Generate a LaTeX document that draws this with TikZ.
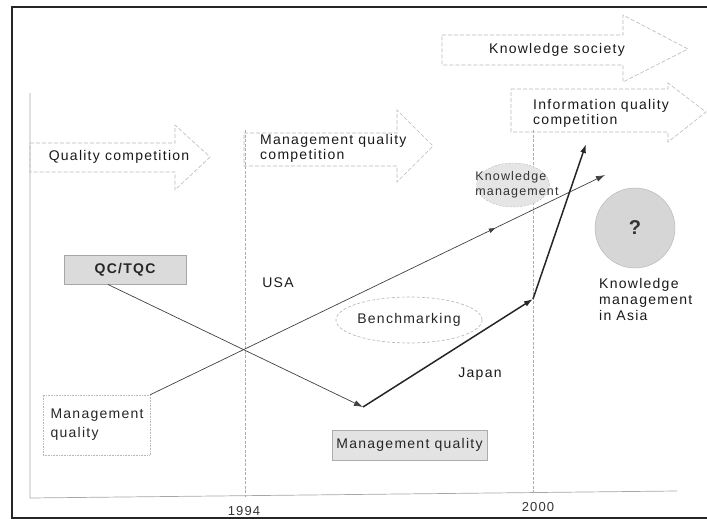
\documentclass[tikz,border=0pt]{standalone}
\usepackage{fontspec}
\setmainfont[LetterSpace=9]{Liberation Sans}
\usetikzlibrary{arrows.meta,decorations.markings,shapes.geometric}

\newcommand\lblfont{\fontsize{14}{15}\selectfont}
\newcommand\smallfont{\fontsize{12.5}{15}\selectfont}

\begin{document}
\begin{tikzpicture}[x=1pt,y=-1pt,
  bigarrow/.style={draw=gray!55, dash pattern=on 4pt off 2pt, line width=0.6pt},
  lbl/.style={font=\lblfont, text=black!90, inner sep=0pt},
  flow/.style={draw=black!75, line width=0.7pt},
  thickflow/.style={draw=black!85, line width=1.5pt},
  tip/.style={-{Latex[length=9pt,width=6pt]}},
  midtip/.style={postaction={decorate}, decoration={markings,
      mark=at position #1 with {\arrow{Latex[length=7pt,width=5pt]}}}},
  frame/.style={draw=black!85, line width=2pt},
  axis/.style={draw=gray!70, line width=0.7pt},
  yearline/.style={draw=gray!65, line width=0.5pt, dash pattern=on 3pt off 1.5pt},
]
\useasboundingbox (0,0) rectangle (707,519);

% outer frame
\draw[frame] (707,7) -- (12,7) -- (12,518) -- (707,518);

% axes and year markers
\draw[axis] (30,93) -- (30,498) -- (677,491);
\draw[yearline] (245,130) -- (245,497);
\draw[yearline] (533,130) -- (533,492);
\node[font=\fontsize{13}{14}\selectfont, text=black!80] (y1994) at (244,511) {1994};
\node[font=\fontsize{13}{14}\selectfont, text=black!80] (y2000) at (538,507) {2000};

% era arrows
\draw[bigarrow] (30,143) -- (175,143) -- (175,125) -- (210,157) -- (175,190) -- (175,172) -- (30,172) -- cycle;
\node[lbl] (era1) at (119,157) {Quality competition};

\draw[bigarrow] (244,133) -- (397,133) -- (397,110) -- (433,146) -- (397,182) -- (397,166) -- (244,166) -- cycle;
\node[lbl, anchor=north west, align=left] (era2) at (260,134) {Management quality\\competition};

\draw[bigarrow] (442,35) -- (623,35) -- (623,15) -- (688,49) -- (623,82) -- (623,65) -- (442,65) -- cycle;
\node[lbl] (era3) at (557,50) {Knowledge society};

\draw[bigarrow] (511,89) -- (668,89) -- (668,83) -- (706,112) -- (668,142) -- (668,132) -- (511,132) -- cycle;
\node[lbl, anchor=north west, align=left] (era4) at (533,99) {Information quality\\competition};

% boxes and bubbles
\node[draw=gray!70, line width=0.6pt, fill=gray!28, minimum width=122pt, minimum height=29pt,
      font=\lblfont\bfseries, text=black!85] (qc) at (125,269.5) {QC/TQC};
\node[draw=gray!55, densely dotted, line width=0.6pt, minimum width=107pt, minimum height=60pt,
      font=\fontsize{14}{19}\selectfont, text=black!85, align=left, text width=92pt] (mqL) at (96.5,425)
      {Management\\quality};
\node[draw=gray!65, line width=0.6pt, fill=gray!22, minimum width=155pt, minimum height=30pt,
      font=\lblfont, text=black!85] (mqB) at (409.5,445) {Management quality};
\node[ellipse, draw=gray!60, dash pattern=on 3pt off 2pt, line width=0.6pt, minimum width=125pt,
      minimum height=46pt, font=\lblfont, text=black!85, inner sep=0pt] (bench) at (409,320) {Benchmarking};
\node[ellipse, draw=gray!55, dash pattern=on 2pt off 1.5pt, fill=gray!20, minimum width=73pt,
      minimum height=44pt, inner sep=0pt] (km) at (513,185) {};
\node[font=\smallfont, text=black!80, align=left, inner sep=0pt] (kmtext) at (517,184.5)
      {Knowledge\\management};
\node[circle, draw=gray!60, fill=gray!32, minimum size=80pt, font=\fontsize{20}{22}\selectfont\bfseries,
      text=black!80] (qm) at (635,228) {?};
\node[lbl, anchor=north west, align=left, font=\fontsize{14}{16}\selectfont] (kma) at (599,278)
      {Knowledge\\management\\in Asia};
\node[lbl] (usa) at (278,283) {USA};
\node[lbl] (japan) at (480,374) {Japan};

% trajectories
\coordinate (qcOut) at (108,284.5);
\coordinate (low) at (363,407);
\coordinate (turn) at (533,299);
\coordinate (usaEnd) at (605,175);
\coordinate (japEnd) at (586,144);

\draw[flow, tip] (qcOut) -- (low);
\draw[flow, tip, midtip=0.76] (mqL.north east) -- (usaEnd);
\draw[thickflow, tip] (low) -- (turn);
\draw[thickflow, tip] (turn) -- (japEnd);
\end{tikzpicture}
\end{document}
